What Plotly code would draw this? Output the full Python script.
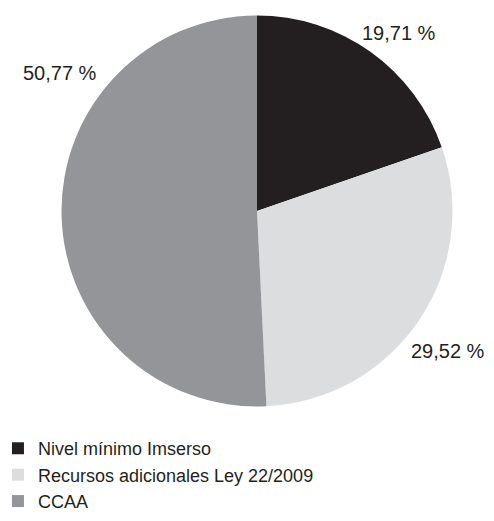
import plotly.graph_objects as go

labels = ['Nivel mínimo Imserso', 'Recursos adicionales Ley 22/2009', 'CCAA']
values = [19.71, 29.52, 50.77]
colors = ['#231f20', '#dcdddf', '#939598']

# where the percentage labels sit (paper coords)
label_pos = [(0.818, 0.9505), (0.9205, 0.3208), (0.1088, 0.8713)]

font = {'family': 'Liberation Sans, Arial, sans-serif', 'size': 20, 'color': '#231f20'}

# page body keeps an 8px margin, so the figure is 16px smaller than the window
W, H = 478, 505

pie = go.Pie(labels=labels,
             values=values,
             sort=False,
             direction='clockwise',
             rotation=0,
             marker={'colors': colors, 'line': {'width': 0}},
             textinfo='none',
             hoverinfo='label+percent',
             domain={'x': [0.1119, 0.9299], 'y': [0.2109, 0.9851]})

annotations = []
for v, (x, y) in zip(values, label_pos):
    annotations.append({
        'x': x, 'y': y, 'xref': 'paper', 'yref': 'paper',
        'xanchor': 'center', 'yanchor': 'middle',
        'text': ('%.2f' % v).replace('.', ',') + ' %',
        'showarrow': False,
        'font': font,
    })

layout = go.Layout(width=W,
                   height=H,
                   margin={'l': 0, 'r': 0, 't': 0, 'b': 0, 'pad': 0, 'autoexpand': False},
                   paper_bgcolor='white',
                   plot_bgcolor='white',
                   font=font,
                   showlegend=True,
                   legend={'x': -0.021, 'y': -0.014,
                           'xanchor': 'left', 'yanchor': 'bottom',
                           'font': dict(font, size=18),
                           'bgcolor': 'rgba(0,0,0,0)'},
                   annotations=annotations)

fig = go.Figure([pie], layout)
fig.write_html("out.html")
